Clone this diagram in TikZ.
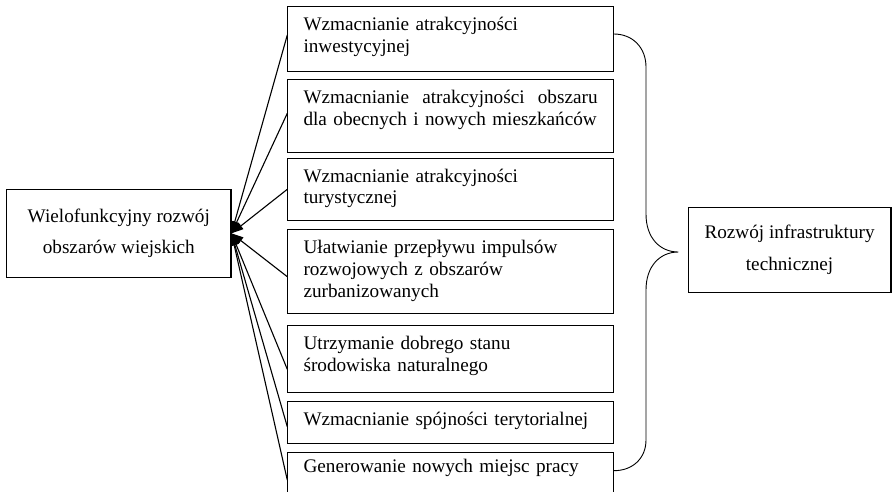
\documentclass[tikz,border=0pt]{standalone}
\usepackage{fontspec}
\setmainfont{Liberation Serif}
\usepackage{tikz}
\usetikzlibrary{arrows.meta, calc}

\begin{document}
\begin{tikzpicture}[
    x=1pt, y=1pt,
    goal/.style={draw, line width=1.1pt, anchor=north west, text width=294pt, align=left,
        inner xsep=15.7pt, inner ysep=0pt, text height=24pt,
        font=\fontsize{19.2pt}{21.7pt}\selectfont},
    hub/.style={draw, line width=1.1pt, inner sep=0pt, align=center,
        font=\fontsize{19.2pt}{31.6pt}\selectfont},
    arr/.style={line width=1.1pt, -{Triangle[length=12pt,width=8pt]}},
]
    \useasboundingbox (0,0) rectangle (892,-491);

    \node[hub, minimum width=224.3pt, minimum height=88pt] (wr) at (118.8,-233.3)
        {Wielofunkcyjny rozwój\\obszarów wiejskich};

    \node[hub, minimum width=202.7pt, minimum height=85.4pt] (ri) at (789.6,-250)
        {Rozwój infrastruktury\\technicznej};

    \node[goal, text depth=41pt] (g1) at (287.3,-6)
        {Wzmacnianie atrakcyjności\\inwestycyjnej};

    \node[goal, text depth=48.7pt] (g2) at (287.3,-79)
        {\hbox to 294pt{Wzmacnianie\hfill atrakcyjności\hfill obszaru}\\dla obecnych i nowych mieszkańców};

    \node[goal, text depth=37.8pt] (g3) at (287.3,-157.7)
        {Wzmacnianie atrakcyjności\\turystycznej};

    \node[goal, text depth=60pt] (g4) at (287.3,-229.3)
        {Ułatwianie przepływu impulsów\\rozwojowych z obszarów\\zurbanizowanych};

    \node[goal, text depth=43.3pt] (g5) at (287.3,-325)
        {Utrzymanie dobrego stanu\\środowiska naturalnego};

    \node[goal, text depth=17.5pt] (g6) at (287.3,-401)
        {Wzmacnianie spójności terytorialnej};

    \node[goal, text height=20pt, text depth=30pt] (g7) at (287.3,-451.7)
        {Generowanie nowych miejsc pracy};

    % arrows into the left box
    \foreach \n/\d in {g1/-29pt, g2/-34.3pt, g3/-31.6pt, g4/-47.4pt, g5/-44.3pt, g6/-25.7pt, g7/-28.3pt}
        \draw[arr] ([yshift=\d]\n.north west) -- (wr.east);

    % brace
    \coordinate (btop) at ([yshift=-28pt]g1.north east);
    \coordinate (bbot) at ([yshift=-19pt]g7.north east);
    \coordinate (btip) at ([xshift=-9.3pt,yshift=-2pt]ri.west);
    \draw[line width=0.9pt] (btop) .. controls (633,-34) and (646,-48) .. (646,-67)
        -- (646,-214) .. controls (646,-238) and (660,-252) .. (btip)
        .. controls (660,-252) and (646,-266) .. (646,-290)
        -- (646,-440) .. controls (646,-458) and (633,-470.7) .. (bbot);
\end{tikzpicture}
\end{document}
